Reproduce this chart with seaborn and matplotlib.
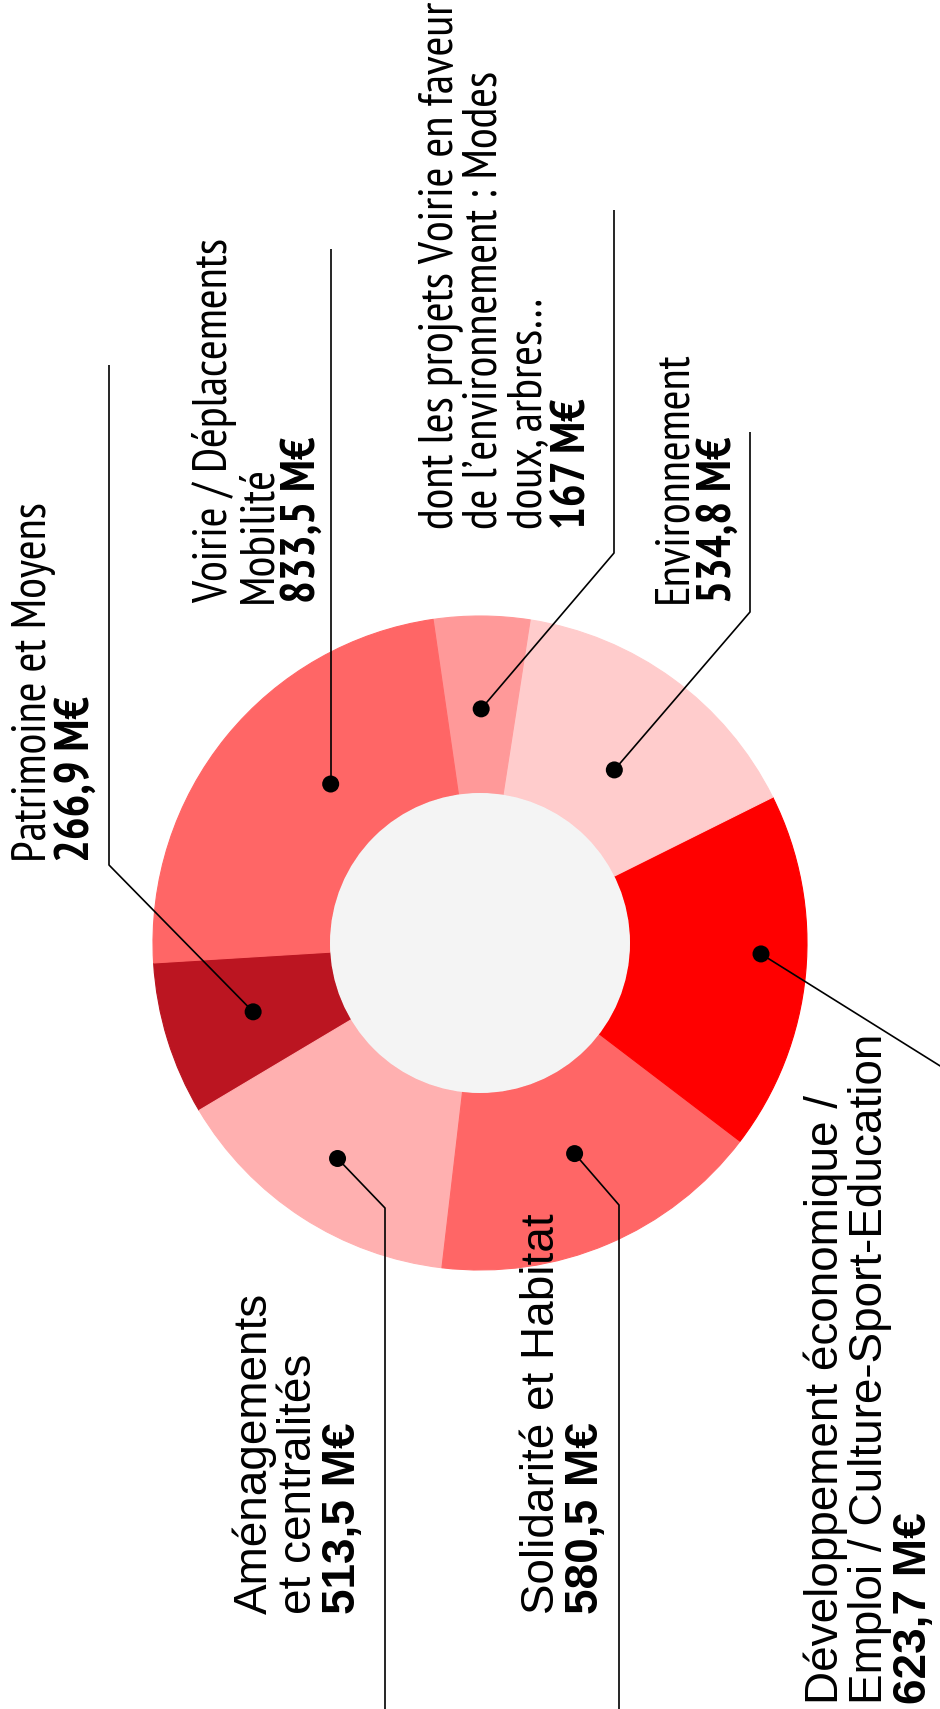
import numpy as np
import matplotlib.pyplot as plt
import seaborn as sns

#%% Data

# slices, counterclockwise from the left
categories = ["Patrimoine et Moyens", "Aménagements et centralités", "Solidarité et Habitat",
              "Développement économique / Emploi / Culture-Sport-Education", "Environnement",
              "dont les projets Voirie en faveur de l’environnement", "Voirie / Déplacements Mobilité"]
values = [266.9, 513.5, 580.5, 623.7, 534.8, 167.0, 833.5]
value_labels = ["266,9 M€", "513,5 M€", "580,5 M€", "623,7 M€", "534,8 M€", "167 M€", "833,5 M€"]
label_lines = [["Patrimoine et Moyens"],
               ["Aménagements", "et centralités"],
               ["Solidarité et Habitat"],
               ["Développement économique /", "Emploi / Culture-Sport-Education"],
               ["Environnement"],
               ["dont les projets Voirie en faveur", "de l’environnement : Modes", "doux, arbres…"],
               ["Voirie / Déplacements", "Mobilité"]]
colors = ["#bb1521", "#ffb0b0", "#ff6666", "#ff0000", "#ffcccc", "#ff9999", "#ff6666"]

#%% Layout (pixels, y from the top)

W, H = 940, 1709
cx, cy = 480, 943
R, r_in = 327, 150
# where the dot sits in each wedge: (fraction of angle, fraction of radius)
dot_pos = [(0.49, 0.725), (0.49, 0.79), (0.52, 0.706), (0.55, 0.86),
           (0.47, 0.67), (0.5, 0.716), (0.41, 0.667)]
# leader line bends after the dot (None x = straight up from dot)
leaders = [[(109, 865), (109, 365)],
           [(385, 1208), (385, 1712)],
           [(619, 1205), (619, 1712)],
           [(945, 1069)],
           [(750, 612), (750, 432)],
           [(614, 553), (614, 210)],
           [(None, 249)]]
# text: baseline x of first line, start y, narrow font?
text_pos = [(46, 862, True), (267, 1614, False), (554, 1614, False), (838, 1704, False),
            (687, 603, True), (453, 529, True), (227, 603, True)]
step = 44
fs = 33
fs_narrow = 34.5

#%% Plot

sns.set_theme(style="white")
plt.rcParams['font.family'] = ['Liberation Sans', 'DejaVu Sans']

fig = plt.figure(figsize=(W / 100, H / 100), dpi=100)
ax = fig.add_axes([0, 0, 1, 1])

wedges, _ = ax.pie(values, colors=colors, startangle=183.5, counterclock=True,
                   radius=R, center=(cx, H - cy), frame=True,
                   wedgeprops=dict(width=R - r_in, linewidth=0.8))
for w in wedges:
    w.set_edgecolor(w.get_facecolor())
ax.add_patch(plt.Circle((cx, H - cy), r_in, color="#f4f4f4", lw=0, zorder=3))

dx, dy = [], []
for w, (fa, fr) in zip(wedges, dot_pos):
    a = np.deg2rad(w.theta1 + fa * (w.theta2 - w.theta1))
    dx.append(cx + fr * R * np.cos(a))
    dy.append(H - cy + fr * R * np.sin(a))

for x0, y0, pts in zip(dx, dy, leaders):
    xs, ys = [x0], [y0]
    for px, py in pts:
        xs.append(x0 if px is None else px)
        ys.append(H - py)
    ax.plot(xs, ys, color="black", lw=1.2, zorder=4, solid_capstyle='butt')

sns.scatterplot(x=dx, y=dy, color="black", s=150, edgecolor="none", zorder=5, ax=ax)

for lines, val, (bx, sy, narrow) in zip(label_lines, value_labels, text_pos):
    fam = ['PT Sans Narrow', 'Roboto Condensed', 'Liberation Sans'] if narrow else ['Liberation Sans']
    for j, line in enumerate(lines + [val]):
        ax.text(bx + j * step, H - sy, line, rotation=90, rotation_mode='anchor',
                ha='left', va='baseline', fontsize=fs_narrow if narrow else fs,
                family=fam, color='black',
                fontweight='bold' if line == val else 'normal', zorder=6)

ax.set_xlim(0, W)
ax.set_ylim(0, H)
ax.set_axis_off()

plt.savefig("out.png", dpi=100, facecolor="white")
